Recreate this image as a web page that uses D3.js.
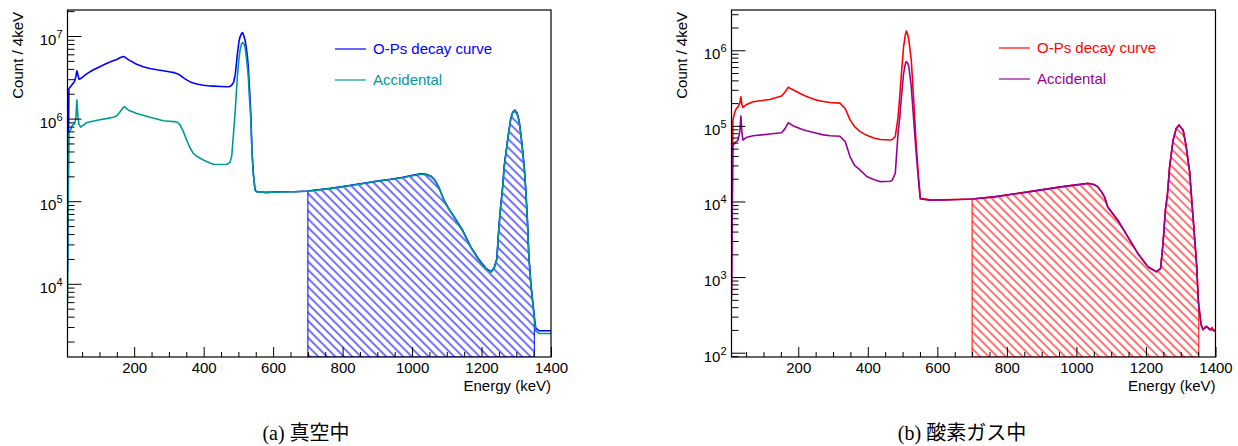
<!DOCTYPE html>
<html>
<head>
<meta charset="utf-8">
<script src="https://cdn.jsdelivr.net/npm/d3@7"></script>
<style>
  body { margin: 0; background: #fff; }
  svg text { font-family: "Liberation Sans", Arial, Helvetica, sans-serif; }
</style>
</head>
<body>
<svg id="fig" width="1238" height="446"></svg>
<script>
// ---- (a) vacuum: energy grid (keV) and counts per 4 keV ----
const vacuumEnergy = [8,12,17,22,28,32,35,38,41,46,62,80,101,120,139,150,159,168,172,178,185,197,207,226,245,265,284,300,315,324,332,340,351,360,370,380,399,418,428,450,467,476,481,486,491,497,502,505,509,512,516,519,522,526,529,531,534,536,539,543,548,553,580,620,660,700,765,820,861,900,938,975,1005,1025,1040,1055,1066,1076,1084,1092,1105,1121,1145,1169,1193,1212,1227,1236,1244,1250,1255,1260,1265,1275,1284,1290,1296,1302,1308,1313,1318,1323,1328,1332,1336,1342,1347,1352,1356,1366,1400];
const vacuumOPs = [1.4e4,2.3e6,2.45e6,2.6e6,2.8e6,3.2e6,3.8e6,3.4e6,3.0e6,3.05e6,3.45e6,3.85e6,4.25e6,4.65e6,5.0e6,5.2e6,5.45e6,5.65e6,5.6e6,5.35e6,5.1e6,4.8e6,4.55e6,4.25e6,4.05e6,3.9e6,3.8e6,3.7e6,3.6e6,3.5e6,3.35e6,3.15e6,2.94e6,2.8e6,2.7e6,2.62e6,2.53e6,2.48e6,2.47e6,2.45e6,2.43e6,2.45e6,2.55e6,2.75e6,3.4e6,6.0e6,8.8e6,9.8e6,1.07e7,1.1e7,1.0e7,8.9e6,7.6e6,5.6e6,3.9e6,2.7e6,1.6e6,1.06e6,4.2e5,2.18e5,1.37e5,1.3e5,1.28e5,1.3e5,1.3e5,1.33e5,1.43e5,1.55e5,1.65e5,1.75e5,1.84e5,1.95e5,2.07e5,2.14e5,2.12e5,2.0e5,1.8e5,1.5e5,1.25e5,1.03e5,8.2e4,6.5e4,4.5e4,2.8e4,1.95e4,1.55e4,1.4e4,1.55e4,2.0e4,4.9e4,8.6e4,1.37e5,2.6e5,5.5e5,1.0e6,1.2e6,1.27e6,1.18e6,9.5e5,6.6e5,4.2e5,2.6e5,1.25e5,6e4,2.3e4,1.0e4,6.3e3,4.0e3,2.9e3,2.7e3,2.7e3];
const vacuumAcc = [5.9e3,6.8e5,7.3e5,8.3e5,8.6e5,1.0e6,1.68e6,1.05e6,8.5e5,7.9e5,8.9e5,9.3e5,9.7e5,1.0e6,1.04e6,1.08e6,1.2e6,1.35e6,1.4e6,1.32e6,1.25e6,1.2e6,1.15e6,1.1e6,1.04e6,9.9e5,9.4e5,9.3e5,9.2e5,9.1e5,8.4e5,7.2e5,5.5e5,4.5e5,3.8e5,3.5e5,3.16e5,2.9e5,2.8e5,2.78e5,2.8e5,2.95e5,3.6e5,6.6e5,1.26e6,3.2e6,5.5e6,6.8e6,8.0e6,8.3e6,8.0e6,7.4e6,6.0e6,4.2e6,3.0e6,2.0e6,1.3e6,9.5e5,4.0e5,2.1e5,1.35e5,1.3e5,1.27e5,1.29e5,1.3e5,1.32e5,1.42e5,1.54e5,1.64e5,1.74e5,1.83e5,1.94e5,2.05e5,2.12e5,2.1e5,1.98e5,1.78e5,1.5e5,1.24e5,1.02e5,8.1e4,6.4e4,4.4e4,2.75e4,1.9e4,1.52e4,1.38e4,1.52e4,1.95e4,4.7e4,8.3e4,1.33e5,2.5e5,5.3e5,9.8e5,1.18e6,1.25e6,1.16e6,9.3e5,6.5e5,4.1e5,2.55e5,1.22e5,5.8e4,2.2e4,9.6e3,6.0e3,3.8e3,2.7e3,2.5e3,2.5e3];

// ---- (b) oxygen gas: energy grid (keV) and counts per 4 keV ----
const oxygenEnergy = [8,12,17,22,27,32,35,38,41,50,70,118,152,162,171,186,214,224,253,272,292,320,335,349,362,378,397,417,436,465,470,479,487,492,496,503,508,511,515,518,525,532,539,545,551,580,620,667,700,763,859,956,1000,1033,1050,1061,1072,1081,1090,1119,1148,1177,1206,1230,1242,1249,1256,1262,1268,1278,1287,1295,1307,1316,1326,1331,1336,1346,1350,1352,1356,1359,1364,1369,1374,1379,1384,1390,1395,1400];
const oxygenOPs = [600,1.2e5,1.5e5,1.7e5,1.8e5,2.0e5,2.43e5,1.9e5,1.76e5,1.9e5,2.09e5,2.23e5,2.48e5,2.8e5,3.24e5,2.99e5,2.56e5,2.45e5,2.19e5,2.1e5,2.04e5,2.0e5,1.7e5,1.2e5,9.8e4,8.4e4,7.5e4,6.9e4,6.6e4,6.5e4,6.6e4,7.2e4,1.3e5,2.5e5,4.5e5,1.12e6,1.6e6,1.8e6,1.6e6,1.37e6,7.4e5,2.2e5,5.9e4,2.37e4,1.1e4,1.05e4,1.05e4,1.07e4,1.08e4,1.15e4,1.34e4,1.57e4,1.66e4,1.74e4,1.68e4,1.57e4,1.35e4,1.15e4,8.5e3,5.7e3,3.4e3,2.05e3,1.37e3,1.18e3,1.3e3,2.8e3,7.8e3,1.28e4,2.9e4,6.5e4,9.3e4,1.03e5,8.8e4,5.3e4,2.4e4,1.15e4,5.8e3,1.4e3,550,420,300,235,200,215,225,210,200,215,195,190];
const oxygenAcc = [520,5.5e4,5.9e4,6.2e4,6.5e4,8.5e4,1.35e5,8.0e4,6.5e4,7.0e4,7.4e4,7.8e4,8.1e4,9.2e4,1.1e5,1.0e5,8.9e4,8.6e4,8.0e4,7.6e4,7.4e4,7.3e4,6.2e4,3.9e4,3.0e4,2.6e4,2.14e4,1.95e4,1.83e4,1.85e4,1.9e4,2.35e4,7.9e4,1.3e5,2.2e5,5.0e5,6.6e5,7.1e5,6.7e5,6.1e5,3.3e5,1.2e5,4.5e4,2.1e4,1.08e4,1.04e4,1.05e4,1.06e4,1.08e4,1.15e4,1.33e4,1.56e4,1.66e4,1.73e4,1.68e4,1.57e4,1.34e4,1.14e4,8.4e3,5.6e3,3.4e3,2.03e3,1.36e3,1.17e3,1.29e3,2.75e3,7.7e3,1.26e4,2.85e4,6.4e4,9.2e4,1.02e5,8.7e4,5.2e4,2.35e4,1.13e4,5.7e3,1.4e3,540,410,290,230,205,210,220,215,205,200,200,195];

// energy window integrated for the o-Ps count (hatched)
const windowKeV = [700, 1352];

// axis settings
const energyDomain = [8, 1400];
const xMajorTicks = [200, 400, 600, 800, 1000, 1200, 1400];
const xMinorStep = 50;
const legendLabels = ["O-Ps decay curve", "Accidental"];
const yTitle = "Count / 4keV";
const xTitle = "Energy (keV)";
const captions = [["(a) ", "真空中"], ["(b) ", "酸素ガス中"]];

const svg = d3.select("#fig");

function drawPanel(p) {
  const x = d3.scaleLinear().domain(energyDomain).range([p.left, p.right]);
  const y = d3.scaleLog().domain(p.yDomain).range([p.bottom, p.top]);
  const g = svg.append("g");

  const clipId = "clip" + p.id;
  svg.append("clipPath").attr("id", clipId)
    .append("rect").attr("x", p.left).attr("y", p.top)
    .attr("width", p.right - p.left).attr("height", p.bottom - p.top);

  // hatch pattern ("\\\" lines)
  const patId = "hatch" + p.id;
  svg.append("defs").append("pattern")
    .attr("id", patId).attr("patternUnits", "userSpaceOnUse")
    .attr("width", 6).attr("height", 6)
    .attr("patternTransform", "rotate(45)")
    .append("line").attr("x1", 0).attr("x2", 6).attr("y1", 3).attr("y2", 3)
    .attr("stroke", p.colors[0]).attr("stroke-width", 1.1);

  const rows = p.energy.map((e, i) => ({ e, a: p.ops[i], b: p.acc[i] }));
  const plot = g.append("g").attr("clip-path", `url(#${clipId})`);

  // hatched window under the o-Ps curve
  const win = rows.filter(d => d.e >= windowKeV[0] && d.e <= windowKeV[1]);
  const area = d3.area().x(d => x(d.e)).y0(p.bottom).y1(d => y(d.a));
  plot.append("path").datum(win).attr("d", area)
    .attr("fill", `url(#${patId})`).attr("stroke", p.colors[0]).attr("stroke-width", 1);

  const lineA = d3.line().x(d => x(d.e)).y(d => y(d.a));
  const lineB = d3.line().x(d => x(d.e)).y(d => y(d.b));
  plot.append("path").datum(rows).attr("d", lineA)
    .attr("fill", "none").attr("stroke", p.colors[0]).attr("stroke-width", 1.6)
    .attr("stroke-linejoin", "round");
  plot.append("path").datum(rows).attr("d", lineB)
    .attr("fill", "none").attr("stroke", p.colors[1]).attr("stroke-width", 1.6)
    .attr("stroke-linejoin", "round");

  // x axis: major + minor ticks drawn inward
  const minor = d3.range(50, 1401, xMinorStep).filter(v => v >= energyDomain[0] && xMajorTicks.indexOf(v) < 0);
  g.append("g").attr("transform", `translate(0,${p.bottom})`)
    .call(d3.axisBottom(x).tickValues(minor).tickSize(-5).tickFormat(""))
    .call(s => s.select(".domain").remove())
    .selectAll("line").attr("stroke", "#000");
  const xa = g.append("g").attr("transform", `translate(0,${p.bottom})`)
    .call(d3.axisBottom(x).tickValues(xMajorTicks).tickSize(-10).tickPadding(13)
      .tickFormat(d3.format("d")))
    .call(s => s.select(".domain").remove());
  xa.selectAll("line").attr("stroke", "#000");
  xa.selectAll("text").attr("font-size", 15).attr("fill", "#000")
    .attr("font-family", "Liberation Sans, Arial, sans-serif").attr("dy", "0.2em");

  // y axis (log): major and minor ticks
  const [lo, hi] = p.yDomain;
  const majors = [], minors = [];
  for (let d = Math.floor(Math.log10(lo)); d <= Math.ceil(Math.log10(hi)); d++) {
    for (let m = 1; m <= 9; m++) {
      const v = m * Math.pow(10, d);
      if (v < lo || v > hi) continue;
      (m === 1 ? majors : minors).push(v);
    }
  }
  g.append("g").attr("transform", `translate(${p.left},0)`)
    .call(d3.axisLeft(y).tickValues(minors).tickSize(-7).tickFormat(""))
    .call(s => s.select(".domain").remove())
    .selectAll("line").attr("stroke", "#000");
  g.append("g").attr("transform", `translate(${p.left},0)`)
    .call(d3.axisLeft(y).tickValues(majors).tickSize(-14).tickFormat(""))
    .call(s => s.select(".domain").remove())
    .selectAll("line").attr("stroke", "#000");
  majors.forEach(v => {
    const t = g.append("text").attr("x", p.left - 5).attr("y", y(v) + 9)
      .attr("text-anchor", "end").attr("font-size", 15).attr("fill", "#000");
    t.append("tspan").text("10");
    t.append("tspan").attr("font-size", 11).attr("dy", -7).text(Math.round(Math.log10(v)));
  });

  // frame
  g.append("rect").attr("x", p.left).attr("y", p.top)
    .attr("width", p.right - p.left).attr("height", p.bottom - p.top)
    .attr("fill", "none").attr("stroke", "#000").attr("stroke-width", 1.2);

  // axis titles
  g.append("text").attr("transform", `translate(${p.left - 45},${p.top + 2}) rotate(-90)`)
    .attr("text-anchor", "end").attr("font-size", 15).attr("fill", "#000").text(yTitle);
  g.append("text").attr("x", p.right).attr("y", p.bottom + 34)
    .attr("text-anchor", "end").attr("font-size", 15).attr("fill", "#000").text(xTitle);

  // legend
  legendLabels.forEach((lab, i) => {
    const ly = p.legendY + i * 31;
    g.append("line").attr("x1", p.legendX).attr("x2", p.legendX + 31)
      .attr("y1", ly).attr("y2", ly).attr("stroke", p.colors[i]).attr("stroke-width", 1.2);
    g.append("text").attr("x", p.legendX + 38).attr("y", ly + 5)
      .attr("font-size", 15).attr("fill", p.colors[i]).text(lab);
  });

  // caption
  const c = svg.append("text").attr("x", p.captionX).attr("y", 440)
    .attr("text-anchor", "middle").attr("font-size", 20).attr("fill", "#000");
  c.append("tspan").attr("font-family", "Liberation Serif, Times New Roman, serif").text(p.caption[0]);
  c.append("tspan").attr("font-family", "Noto Sans CJK JP, sans-serif").text(p.caption[1]);
}

drawPanel({
  id: "a", left: 67.5, right: 551, top: 10, bottom: 357,
  yDomain: [1300, 2.064e7],
  energy: vacuumEnergy, ops: vacuumOPs, acc: vacuumAcc,
  colors: ["#0000ff", "#009999"],
  legendX: 335, legendY: 49, captionX: 306, caption: captions[0]
});
drawPanel({
  id: "b", left: 731.5, right: 1215.5, top: 10, bottom: 357,
  yDomain: [87.7, 3.41e6],
  energy: oxygenEnergy, ops: oxygenOPs, acc: oxygenAcc,
  colors: ["#ff0000", "#990099"],
  legendX: 999, legendY: 48, captionX: 962, caption: captions[1]
});
</script>
</body>
</html>
